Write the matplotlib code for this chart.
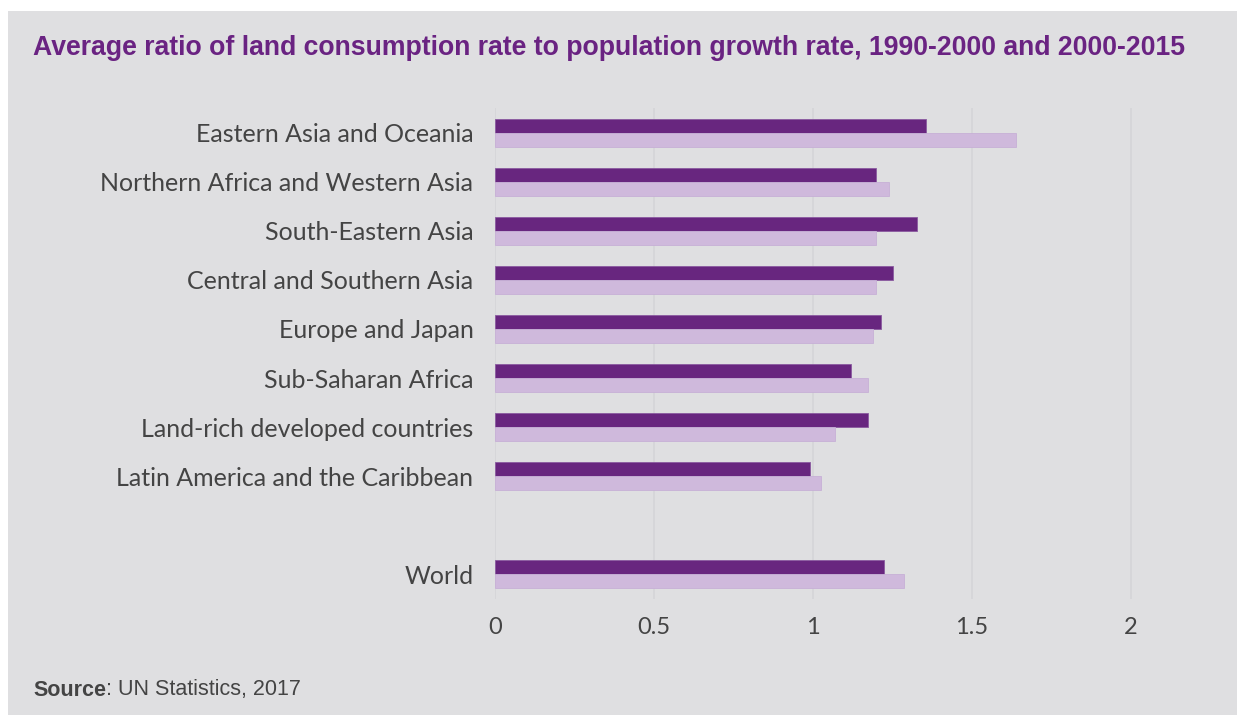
import matplotlib
matplotlib.use("Agg")
import matplotlib.pyplot as plt
from matplotlib.patches import Rectangle
import numpy as np

categories = [
    "Eastern Asia and Oceania",
    "Northern Africa and Western Asia",
    "South-Eastern Asia",
    "Central and Southern Asia",
    "Europe and Japan",
    "Sub-Saharan Africa",
    "Land-rich developed countries",
    "Latin America and the Caribbean",
    "",
    "World",
]
period_1990_2000 = [1.354, 1.198, 1.327, 1.251, 1.215, 1.120, 1.172, 0.989, np.nan, 1.223]
period_2000_2015 = [1.638, 1.240, 1.198, 1.198, 1.189, 1.172, 1.068, 1.025, np.nan, 1.285]
x_ticks = [0, 0.5, 1, 1.5, 2]
x_tick_labels = ["0", "0.5", "1", "1.5", "2"]

title = "Average ratio of land consumption rate to population growth rate, 1990-2000 and 2000-2015"

BG = "#dfdfe1"
DARK = "#68267f"
LIGHT = "#cfb9dc"
TEXT = "#444444"
TITLE_C = "#6a2382"

W, H = 1237, 717
fig = plt.figure(figsize=(W / 100, H / 100), dpi=100, facecolor="white")
fig.patches.append(Rectangle((8 / W, 2 / H), 1 - 8 / W, (715 - 11) / H,
                             transform=fig.transFigure, facecolor=BG,
                             edgecolor="none", zorder=-10))

ax = fig.add_axes([495 / W, 1 - 599 / H, (2.2 * 318) / W, 491 / H])
ax.set_facecolor("none")

pos = np.arange(len(categories))
h = 0.285
ax.barh(pos - h / 2, period_1990_2000, height=h, color=DARK,
        edgecolor="#8a5aa0", linewidth=0.6, zorder=3)
ax.barh(pos + h / 2, period_2000_2015, height=h, color=LIGHT,
        edgecolor="#c7b0d6", linewidth=0.6, zorder=3)

ax.set_xlim(0, 2.2)
ax.set_ylim(len(categories) - 0.5, -0.5)
ax.set_yticks(pos)
ax.set_yticklabels(categories, fontsize=18, color=TEXT, family="Lato")
ax.set_xticks(x_ticks)
ax.set_xticklabels(x_tick_labels, fontsize=17, color=TEXT, family="Lato")
ax.tick_params(axis="both", length=0)
ax.tick_params(axis="y", pad=15.5)
ax.tick_params(axis="x", pad=13)
for s in ax.spines.values():
    s.set_visible(False)
ax.xaxis.grid(True, color="#d6d6d9", linewidth=1.3, zorder=0)
ax.set_axisbelow(True)

fig.text(33 / W, 1 - 48 / H, title, fontsize=19.2, fontweight="bold",
         color=TITLE_C, family="Liberation Sans", va="center", ha="left")

t = fig.text(33 / W, 1 - 690 / H, "Source", fontsize=15.5, color=TEXT,
             family="Liberation Sans", fontweight="bold", va="center", ha="left")
fig.canvas.draw()
bb = t.get_window_extent()
fig.text(bb.x1 / W, 1 - 690 / H, ": UN Statistics, 2017", fontsize=15.5,
         color=TEXT, family="Liberation Sans", va="center", ha="left")

fig.savefig("out.png", dpi=100, facecolor="white")
